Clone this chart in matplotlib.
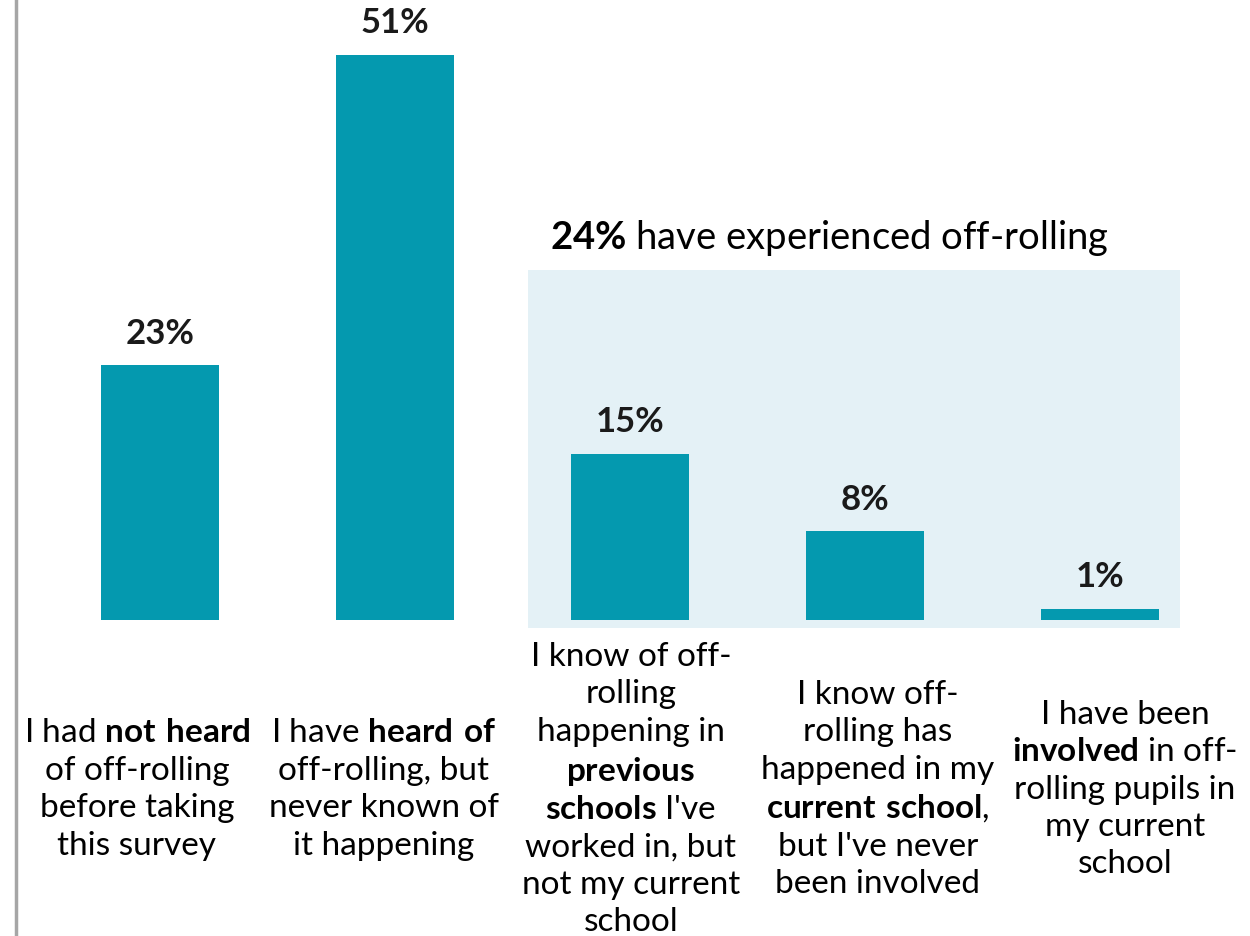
import matplotlib
matplotlib.use("Agg")
import matplotlib.pyplot as plt
from matplotlib.patches import Rectangle
from matplotlib.lines import Line2D

plt.rcParams['font.family'] = ['Lato', 'DejaVu Sans']
plt.rcParams['mathtext.fontset'] = 'custom'
plt.rcParams['mathtext.rm'] = 'Lato'
plt.rcParams['mathtext.bf'] = 'Lato:bold'

# data
values = [23, 51, 15, 8, 1]
value_labels = ["23%", "51%", "15%", "8%", "1%"]
categories = [
    "I had $\\mathbf{not\\ heard}$\nof off-rolling\nbefore taking\nthis survey",
    "I have $\\mathbf{heard\\ of}$\noff-rolling, but\nnever known of\nit happening",
    "I know of off-\nrolling\nhappening in\n$\\mathbf{previous}$\n$\\mathbf{schools}$ I've\nworked in, but\nnot my current\nschool",
    "I know off-\nrolling has\nhappened in my\n$\\mathbf{current\\ school}$,\nbut I've never\nbeen involved",
    "I have been\n$\\mathbf{involved}$ in off-\nrolling pupils in\nmy current\nschool",
]

bar_color = "#0499AF"
box_color = "#E4F1F6"

fig = plt.figure(figsize=(12.5, 9.36), dpi=100)
ax = fig.add_axes([0, 0, 1, 1])
ax.set_xlim(-160 / 235, (1250 - 160) / 235)
ax.set_ylim(-316 / 11.08, (936 - 316) / 11.08)
ax.axis('off')

x = list(range(len(values)))

# shaded group box behind the last three bars
ax.add_patch(Rectangle((1.566, -0.72), 4.34 - 1.566, 32.3, facecolor=box_color,
                       edgecolor='none', zorder=0))
ax.text(2.85, 34.5, "$\\mathbf{24\\%}$ have experienced off-rolling",
        ha='center', va='center', fontsize=27.5, color='black')

ax.bar(x, values, width=0.5, color=bar_color, zorder=2)

for xi, v, lab in zip(x, values, value_labels):
    ax.text(xi, v + 1.4, lab, ha='center', va='bottom', fontsize=25,
            fontweight='bold', color='#1a1a1a')

# category labels sit on a slightly wider pitch than the bars
for xi, cat in zip(x, categories):
    ax.text(xi * 1.051 - 0.098, -15.3, cat, ha='center', va='center', fontsize=24,
            multialignment='center', linespacing=1.31, color='black')

# left border line
fig.add_artist(Line2D([16 / 1250, 16 / 1250], [0, 1], color='#A6A6A6', lw=2.5))

fig.savefig("out.png", dpi=100)
